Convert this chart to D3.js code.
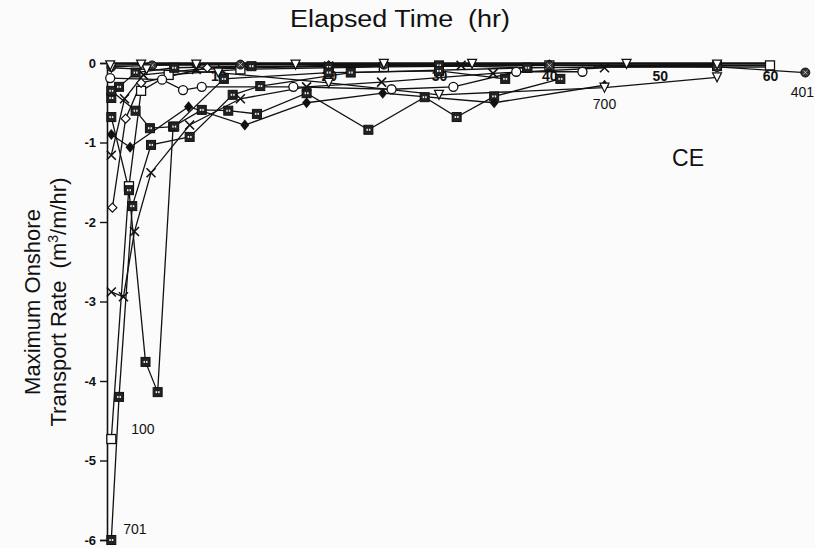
<!DOCTYPE html>
<html><head><meta charset="utf-8">
<script src="https://cdn.jsdelivr.net/npm/d3@7"></script>
<style>
html,body{margin:0;padding:0;background:#fbfbfb;}
svg{display:block;}
text{font-family:"Liberation Sans","DejaVu Sans",sans-serif;fill:#111;white-space:pre;}
</style></head>
<body>
<script>
// ---- data (hours, m^3/m/hr) ----
const xTicks = [10, 20, 30, 40, 50, 60];
const yTicks = [0, -1, -2, -3, -4, -5, -6];

const s701 = [[0.3,-6.0],[1.0,-4.2],[2.2,-1.8],[3.9,-1.03],[7.4,-0.93],[11.3,-0.4],[13.8,-0.29],[22,-0.12],[38,-0.06],[55.2,-0.04]];
const s100 = [[0.3,-4.73],[1.9,-1.55],[3.0,-0.35],[5.5,-0.15],[12,-0.08],[25,-0.05],[40,-0.03],[60,-0.03]];
const sZig = [[0.3,-0.68],[1.9,-1.6],[3.4,-3.76],[4.5,-4.14],[5.9,-0.8],[8.5,-0.59],[10.9,-0.6],[13.5,-0.64],[18,-0.38],[23.6,-0.84],[28.7,-0.43],[31.6,-0.68],[35,-0.42],[41,-0.2]];
const sX = [[0.3,-2.88],[1.4,-2.94],[2.4,-2.12],[3.9,-1.38],[7.4,-0.78],[12,-0.45],[18,-0.3],[24.8,-0.24],[34.9,-0.13],[45,-0.06]];
const sX2 = [[0.3,-1.16],[1.5,-0.45],[3.2,-0.15],[8,-0.08],[20,-0.04],[32,-0.03]];
const sDiamond = [[0.3,-0.9],[2.0,-1.06],[7.3,-0.55],[12.4,-0.78],[18,-0.5],[24.9,-0.38],[35,-0.5],[45,-0.28]];
const sCircle = [[0.2,-0.19],[4.9,-0.21],[6.8,-0.34],[8.5,-0.30],[16.8,-0.3],[25.7,-0.33],[31.3,-0.3],[37,-0.11],[43,-0.11]];
const sOpenDiamond = [[0.4,-1.82],[1.6,-0.7],[3.0,-0.25],[9,-0.06],[20,-0.03],[40,-0.02]];
const s401 = [[0.3,-0.05],[4,-0.03],[12,-0.02],[25,-0.02],[40,-0.03],[55.2,-0.05],[63.2,-0.12]];
const s700 = [[0.3,-0.06],[3.5,-0.08],[10,-0.12],[20,-0.25],[30,-0.4],[45,-0.31],[55.2,-0.18]];
const sTop = [[0.2,-0.03],[3,-0.02],[8,-0.02],[17,-0.02],[25,-0.01],[33,-0.01],[47,-0.01],[55.2,-0.02]];
const sSq2 = [[0.3,-0.44],[1.0,-0.3],[2.5,-0.12],[6,-0.06],[13,-0.04],[20,-0.05],[30,-0.03],[38,-0.06]];
const sSq3 = [[0.3,-0.35],[2.5,-0.6],[3.8,-0.82],[6.0,-0.8],[10.5,-0.2],[20,-0.12],[30,-0.1],[36,-0.2]];
const sBand = [[44,-0.05],[60,-0.05],[60,0]];

const seriesList = [
  {pts:s701, m:"sqdot", label:"701"},
  {pts:s100, m:"opensq", label:"100"},
  {pts:sZig, m:"sqdot"},
  {pts:sX, m:"x"},
  {pts:sX2, m:"x"},
  {pts:sDiamond, m:"diamond"},
  {pts:sCircle, m:"circle"},
  {pts:sOpenDiamond, m:"odiamond"},
  {pts:s401, m:"circlex", label:"401"},
  {pts:s700, m:"tri", label:"700"},
  {pts:sTop, m:"tri"},
  {pts:sSq2, m:"sqdot"},
  {pts:sSq3, m:"sqdot"},
  {pts:sBand, m:"none"}
];

const W = 815, H = 548;
const svg = d3.select("body").append("svg").attr("width", W).attr("height", H);

const x = d3.scaleLinear().domain([0, 60]).range([108, 770]);
const y = d3.scaleLinear().domain([-6, 0]).range([540, 63]);

// title
svg.append("text").attr("x", 290).attr("y", 27)
  .attr("textLength", 220).attr("lengthAdjust", "spacingAndGlyphs")
  .style("font-size", "23px").text("Elapsed Time  (hr)");

// y-axis label
const yl = svg.append("g").attr("transform", "translate(45,302) rotate(-90)");
yl.append("text").attr("x", 0).attr("y", -5).attr("text-anchor", "middle")
  .style("font-size", "22px").text("Maximum Onshore");
const t2 = yl.append("text").attr("x", 0).attr("y", 21).attr("text-anchor", "middle")
  .style("font-size", "22px");
t2.append("tspan").text("Transport Rate  (m");
t2.append("tspan").attr("dy", -8).style("font-size", "14px").text("3");
t2.append("tspan").attr("dy", 8).text("/m/hr)");

// CE
svg.append("text").attr("x", 688).attr("y", 166).attr("text-anchor", "middle")
  .style("font-size", "23px").text("CE");

// y axis
const gy = svg.append("g").attr("transform", "translate(107,0)")
  .call(d3.axisLeft(y).tickValues(yTicks).tickSize(7).tickPadding(4).tickFormat(d => String(d)));
gy.select(".domain").attr("stroke", "#111").attr("stroke-width", 1.6);
gy.selectAll(".tick line").attr("stroke", "#111").attr("stroke-width", 1.4);
gy.selectAll(".tick text").style("font-size", "13px").style("font-weight", "bold")
  .style("font-family", "Liberation Sans, sans-serif").attr("fill", "#111");

// series lines
const line = d3.line().x(d => x(d[0])).y(d => y(d[1]));
const gs = svg.append("g");
seriesList.forEach(s => {
  gs.append("path").attr("d", line(s.pts)).attr("fill", "none")
    .attr("stroke", "#111").attr("stroke-width", 1.3);
});

// top axis (drawn at y=0)
const gx = svg.append("g").attr("transform", `translate(0,${y(0)})`)
  .call(d3.axisBottom(x).tickValues(xTicks).tickSize(4).tickPadding(4).tickSizeOuter(0).tickFormat(d3.format("d")));
gx.select(".domain").attr("stroke", "#111").attr("stroke-width", 2.6);
gx.selectAll(".tick line").attr("stroke", "#111").attr("stroke-width", 1.4);
gx.selectAll(".tick text").style("font-size", "14px").style("font-weight", "bold")
  .style("font-family", "Liberation Sans, sans-serif").attr("fill", "#111");

// markers
const gm = svg.append("g");
function marker(g, m, px, py) {
  const r = 4.5;
  if (m === "sqdot") {
    g.append("rect").attr("x", px - r).attr("y", py - r).attr("width", 2*r).attr("height", 2*r)
      .attr("fill", "#222").attr("stroke", "#111");
    g.append("rect").attr("x", px - 2).attr("y", py - 1).attr("width", 1.5).attr("height", 2).attr("fill", "#eee");
    g.append("rect").attr("x", px + 0.5).attr("y", py - 1).attr("width", 1.5).attr("height", 2).attr("fill", "#eee");
  } else if (m === "opensq") {
    g.append("rect").attr("x", px - r).attr("y", py - r).attr("width", 2*r).attr("height", 2*r)
      .attr("fill", "#fff").attr("stroke", "#111").attr("stroke-width", 1.3);
  } else if (m === "circle") {
    g.append("circle").attr("cx", px).attr("cy", py).attr("r", r).attr("fill", "#fff").attr("stroke", "#111").attr("stroke-width", 1.3);
  } else if (m === "circlex") {
    g.append("circle").attr("cx", px).attr("cy", py).attr("r", r).attr("fill", "#333").attr("stroke", "#111");
    g.append("path").attr("d", `M${px-2},${py-2}L${px+2},${py+2}M${px+2},${py-2}L${px-2},${py+2}`).attr("stroke", "#ddd").attr("stroke-width", 0.8);
  } else if (m === "x") {
    g.append("path").attr("d", `M${px-r},${py-r}L${px+r},${py+r}M${px+r},${py-r}L${px-r},${py+r}`)
      .attr("stroke", "#111").attr("stroke-width", 1.6);
  } else if (m === "diamond") {
    g.append("path").attr("d", `M${px},${py-r-1}L${px+r},${py}L${px},${py+r+1}L${px-r},${py}Z`).attr("fill", "#111");
  } else if (m === "odiamond") {
    g.append("path").attr("d", `M${px},${py-r}L${px+r},${py}L${px},${py+r}L${px-r},${py}Z`)
      .attr("fill", "#fff").attr("stroke", "#111").attr("stroke-width", 1.2);
  } else if (m === "tri") {
    g.append("path").attr("d", `M${px-r},${py-r}L${px+r},${py-r}L${px},${py+r}Z`)
      .attr("fill", "#fff").attr("stroke", "#111").attr("stroke-width", 1.2);
  }
}
seriesList.forEach(s => {
  s.pts.forEach(p => marker(gm, s.m, x(p[0]), y(p[1])));
});

// series labels
const lab = svg.append("g").style("font-size", "14px");
function lastPt(arr){ return arr[arr.length-1]; }
lab.append("text").attr("x", x(s701[0][0]) + 12).attr("y", y(s701[0][1]) - 6).text("701");
lab.append("text").attr("x", x(s100[0][0]) + 20).attr("y", y(s100[0][1]) - 5).text("100");
lab.append("text").attr("x", x(s700[5][0])).attr("y", y(s700[5][1]) + 21).attr("text-anchor", "middle").text("700");
lab.append("text").attr("x", x(lastPt(s401)[0]) - 3).attr("y", y(lastPt(s401)[1]) + 24).attr("text-anchor", "middle").text("401");
</script>
</body></html>
